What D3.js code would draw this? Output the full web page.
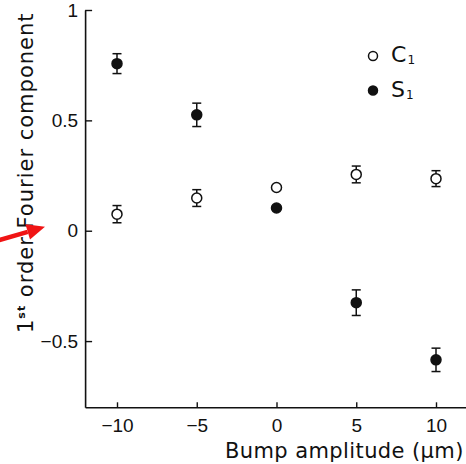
<!DOCTYPE html>
<html>
<head>
<meta charset="utf-8">
<script src="https://cdn.jsdelivr.net/npm/d3@7"></script>
<style>
  body { margin: 0; background: #fff; }
  svg { display: block; }
</style>
</head>
<body>
<div id="chart"></div>
<script>
// bump amplitude (um)
const amplitudes = [-10, -5, 0, 5, 10] ;
// C1 (open circles) and S1 (filled circles), with error half-widths
const c1_values = [0.075, 0.148, 0.196, 0.255, 0.236] ;
const c1_errors = [0.039, 0.038, 0, 0.038, 0.036] ;
const s1_values = [0.757, 0.525, 0.103, -0.326, -0.585] ;
const s1_errors = [0.045, 0.053, 0, 0.058, 0.053] ;
const x_ticks = [-10, -5, 0, 5, 10] ;
const y_ticks = [-0.5, 0, 0.5, 1] ;

const series = [
  {name: "C", sub: "1", values: c1_values, errors: c1_errors, filled: false},
  {name: "S", sub: "1", values: s1_values, errors: s1_errors, filled: true}
] ;

const width = 466, height = 464 ;
const svg = d3.select("#chart").append("svg")
    .attr("width", width)
    .attr("height", height) ;

const xScale = d3.scaleLinear()
  .domain([-12, 12])
  .range([85.1, 467.9]) ;

const yScale = d3.scaleLinear()
  .domain([-0.8, 1])
  .range([407.3, 10]) ;

// axes: ticks point inward
const xAxis = svg.append("g")
    .attr("transform", `translate(0, ${yScale(-0.8)})`)
    .call(d3.axisBottom(xScale).tickValues(x_ticks).tickSizeInner(-5).tickSizeOuter(0)
      .tickPadding(12).tickFormat(d => d < 0 ? "\u2212" + Math.abs(d) : d)) ;

const yAxis = svg.append("g")
    .attr("transform", `translate(${xScale(-12)}, 0)`)
    .call(d3.axisLeft(yScale).tickValues(y_ticks).tickSizeInner(-7).tickSizeOuter(0)
      .tickPadding(7).tickFormat(d => d < 0 ? "\u2212" + Math.abs(d) : d)) ;

[xAxis, yAxis].forEach(ax => {
  ax.select(".domain").attr("stroke", "#111").attr("stroke-width", 1.6) ;
  ax.selectAll(".tick line").attr("stroke", "#111").attr("stroke-width", 1.4) ;
  ax.selectAll(".tick text")
    .attr("font-family", "Liberation Sans, Arial, sans-serif")
    .attr("font-size", 19)
    .attr("fill", "#111") ;
}) ;
xAxis.selectAll(".tick text").attr("dy", "0.65em") ;

// error bars + points
const capW = 4.5 ;
series.forEach(s => {
  const g = svg.append("g") ;
  const pts = amplitudes.map((a, i) => ({x: a, y: s.values[i], e: s.errors[i]})) ;
  const eb = g.selectAll("g.err")
    .data(pts.filter(d => d.e > 0))
    .enter().append("g")
      .attr("class", "err")
      .attr("stroke", "#111")
      .attr("stroke-width", 1.5) ;
  eb.append("line")
    .attr("x1", d => xScale(d.x)).attr("x2", d => xScale(d.x))
    .attr("y1", d => yScale(d.y + d.e)).attr("y2", d => yScale(d.y - d.e)) ;
  eb.append("line")
    .attr("x1", d => xScale(d.x) - capW).attr("x2", d => xScale(d.x) + capW)
    .attr("y1", d => yScale(d.y + d.e)).attr("y2", d => yScale(d.y + d.e)) ;
  eb.append("line")
    .attr("x1", d => xScale(d.x) - capW).attr("x2", d => xScale(d.x) + capW)
    .attr("y1", d => yScale(d.y - d.e)).attr("y2", d => yScale(d.y - d.e)) ;
  g.selectAll("circle")
    .data(pts)
    .enter().append("circle")
      .attr("cx", d => xScale(d.x))
      .attr("cy", d => yScale(d.y))
      .attr("r", 5)
      .attr("fill", s.filled ? "#111" : "#fff")
      .attr("stroke", "#111")
      .attr("stroke-width", 1.5) ;
}) ;

// legend
const legend = svg.append("g").attr("transform", "translate(373, 56)") ;
series.forEach((s, i) => {
  const row = legend.append("g").attr("transform", `translate(0, ${i * 34.5})`) ;
  row.append("circle")
    .attr("r", 4.5)
    .attr("fill", s.filled ? "#111" : "#fff")
    .attr("stroke", "#111")
    .attr("stroke-width", 1.5) ;
  const t = row.append("text")
    .attr("x", 18).attr("y", 6)
    .attr("font-family", "DejaVu Sans, sans-serif")
    .attr("font-size", 22)
    .attr("fill", "#111")
    .text(s.name) ;
  t.append("tspan").attr("font-size", 12).attr("dy", 2).attr("dx", 1).text(s.sub) ;
}) ;

// axis titles
svg.append("text")
  .attr("x", 225).attr("y", 458)
  .attr("font-family", "DejaVu Sans, sans-serif")
  .attr("font-size", 21)
  .attr("fill", "#111")
  .attr("letter-spacing", 0.4)
  .text("Bump amplitude (\u03bcm)") ;

const ylab = svg.append("text")
  .attr("transform", "translate(33, 333) rotate(-90)")
  .attr("font-family", "DejaVu Sans, sans-serif")
  .attr("font-size", 21)
  .attr("fill", "#111")
  .attr("letter-spacing", 1) ;
ylab.append("tspan").text("1") ;
ylab.append("tspan").attr("font-size", 11).attr("font-weight", "bold").attr("dy", -8).text("st") ;
ylab.append("tspan").attr("dy", 8).text(" order Fourier component") ;

// red arrow annotation
const tipX = 45, tipY = yScale(0) - 4 ;
const ang = Math.atan2(tipY - 240, tipX - 0) ;
const headLen = 18, headHalf = 8 ;
const bx = tipX - headLen * Math.cos(ang), by = tipY - headLen * Math.sin(ang) ;
svg.append("line")
  .attr("x1", -2).attr("y1", 240.5)
  .attr("x2", bx).attr("y2", by)
  .attr("stroke", "#f01414")
  .attr("stroke-width", 4.5) ;
svg.append("path")
  .attr("d", d3.line()([
    [tipX, tipY],
    [bx + headHalf * Math.sin(ang), by - headHalf * Math.cos(ang)],
    [bx - headHalf * Math.sin(ang), by + headHalf * Math.cos(ang)]
  ]) + "Z")
  .attr("fill", "#f01414") ;
</script>
</body>
</html>
